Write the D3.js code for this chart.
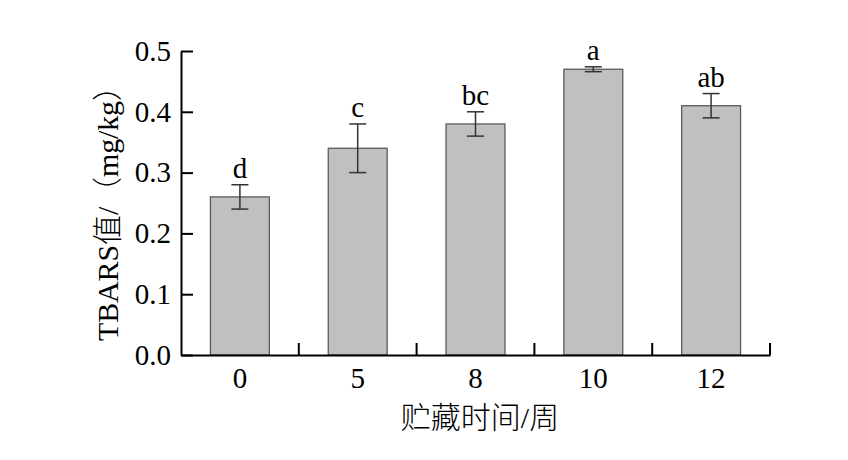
<!DOCTYPE html>
<html>
<head>
<meta charset="utf-8">
<script src="https://cdn.jsdelivr.net/npm/d3@7"></script>
<style>
  body { margin: 0; background: #fff; }
  svg { display: block; }
  text { font-family: "Liberation Serif", "Times New Roman", "Noto Sans CJK SC", serif; fill: #000; }
  .cjk { font-family: "Liberation Serif", "Noto Sans CJK SC", serif; font-weight: 300; }
</style>
</head>
<body>
<svg id="chart" width="848" height="460"></svg>
<script>
// storage weeks
const weeks = ["0", "5", "8", "10", "12"];
// TBARS value (mg/kg) and standard deviation
const tbars = [0.26, 0.34, 0.38, 0.47, 0.41];
const errors = [0.02, 0.04, 0.02, 0.004, 0.02];
// significance letters
const letters = ["d", "c", "bc", "a", "ab"];
const yTicks = [0, 0.1, 0.2, 0.3, 0.4, 0.5];

const margin = { top: 51, right: 78, bottom: 105, left: 181 };
const width = 848, height = 460;

const svg = d3.select("#chart");

const x = d3
  .scaleBand()
  .domain(weeks)
  .range([margin.left, width - margin.right])
  .paddingInner(0.5)
  .paddingOuter(0.25);

const y = d3
  .scaleLinear()
  .domain([0, 0.5])
  .range([height - margin.bottom, margin.top]);

const data = weeks.map((w, i) => ({
  week: w,
  value: tbars[i],
  err: errors[i],
  letter: letters[i],
}));

// bars
svg
  .append("g")
  .selectAll("rect")
  .data(data)
  .join("rect")
  .attr("x", (d) => x(d.week))
  .attr("y", (d) => y(d.value))
  .attr("width", x.bandwidth())
  .attr("height", (d) => y(0) - y(d.value))
  .attr("fill", "#bfc0c2")
  .attr("stroke", "#5a5a5a")
  .attr("stroke-width", 1.3);

// error bars
const cap = 8.5;
const errG = svg
  .append("g")
  .attr("stroke", "#333")
  .attr("stroke-width", 1.5)
  .selectAll("g")
  .data(data)
  .join("g")
  .attr("transform", (d) => `translate(${x(d.week) + x.bandwidth() / 2},0)`);
errG
  .append("line")
  .attr("y1", (d) => y(d.value - d.err))
  .attr("y2", (d) => y(d.value + d.err));
errG
  .append("line")
  .attr("x1", -cap)
  .attr("x2", cap)
  .attr("y1", (d) => y(d.value + d.err))
  .attr("y2", (d) => y(d.value + d.err));
errG
  .append("line")
  .attr("x1", -cap)
  .attr("x2", cap)
  .attr("y1", (d) => y(d.value - d.err))
  .attr("y2", (d) => y(d.value - d.err));

// significance letters
svg
  .append("g")
  .selectAll("text")
  .data(data)
  .join("text")
  .attr("x", (d) => x(d.week) + x.bandwidth() / 2)
  .attr("y", (d) => y(d.value + d.err) - 7)
  .attr("text-anchor", "middle")
  .style("font-size", "29px")
  .text((d) => d.letter);

// y axis, ticks pointing inward
const yAxis = d3
  .axisLeft(y)
  .tickValues(yTicks)
  .tickFormat(d3.format(".1f"))
  .tickSizeInner(-12)
  .tickSizeOuter(0)
  .tickPadding(10);

const yAxisG = svg
  .append("g")
  .attr("transform", `translate(${margin.left},0)`)
  .call(yAxis);
yAxisG.selectAll("text").style("font-size", "29px").attr("fill", "#000");

// x axis, labels at band centres
const xAxis = d3.axisBottom(x).tickSize(0).tickSizeOuter(0).tickPadding(12);
const xAxisG = svg
  .append("g")
  .attr("transform", `translate(0,${y(0)})`)
  .call(xAxis);
xAxisG.selectAll("text").style("font-size", "29px").attr("fill", "#000");

// x ticks at band boundaries, pointing up
xAxisG
  .append("g")
  .selectAll("line")
  .data(weeks)
  .join("line")
  .attr("x1", (d) => x(d) + x.bandwidth() / 2 + x.step() / 2)
  .attr("x2", (d) => x(d) + x.bandwidth() / 2 + x.step() / 2)
  .attr("y1", 0)
  .attr("y2", -12)
  .attr("stroke", "#000")
  .attr("stroke-width", 2);

svg.selectAll(".domain, .tick line").attr("stroke", "#000").attr("stroke-width", 2);

// axis titles
svg
  .append("text")
  .attr("class", "cjk")
  .attr("x", 480)
  .attr("y", 428)
  .attr("text-anchor", "middle")
  .style("font-size", "30px")
  .text("贮藏时间/周");

svg
  .append("text")
  .attr("class", "cjk")
  .attr("transform", `translate(118,${(y(0) + y(0.5)) / 2 + 3}) rotate(-90)`)
  .attr("text-anchor", "middle")
  .attr("textLength", 270)
  .attr("lengthAdjust", "spacing")
  .style("font-size", "30px")
  .text("TBARS值/（mg/kg）");
</script>
</body>
</html>
